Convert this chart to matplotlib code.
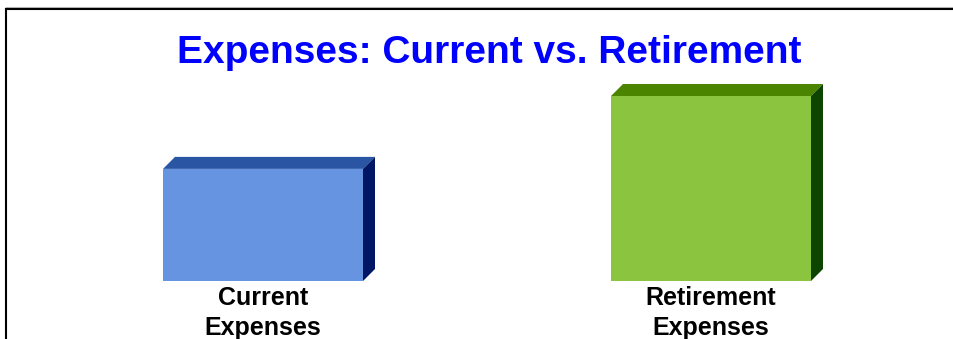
import matplotlib
matplotlib.use("Agg")
import matplotlib.pyplot as plt
from matplotlib.patches import Polygon
from matplotlib.lines import Line2D

# Data
categories = ["Current\nExpenses", "Retirement\nExpenses"]
values = [100, 165]
front_colors = ["#6794E0", "#8BC43F"]
top_colors = ["#2A55A3", "#4B8500"]
side_colors = ["#001766", "#0B4500"]

W, H, DPI = 954, 339, 100
fig = plt.figure(figsize=(W / DPI, H / DPI), dpi=DPI)
fig.patch.set_facecolor("white")
plt.rcParams["font.family"] = ["Liberation Sans", "DejaVu Sans"]

# Plot area in pixels: baseline at y=281, category spacing 448 px
base_px = 281
area_h = 200
ax = fig.add_axes([0, (H - base_px) / H, 1, area_h / H])
ax.set_xlim(-263 / 448, (W - 263) / 448)
ax.set_ylim(0, max(values) * area_h / 185)
ax.axis("off")

bar_w = 200 / 448
x = list(range(len(values)))
bars = ax.bar(x, values, width=bar_w, color=front_colors, linewidth=0, zorder=2)

# 3-D depth faces, computed in display space from the bar geometry
depth = 12  # pixels
fig.canvas.draw()
for rect, tc, sc in zip(bars, top_colors, side_colors):
    x0, y0 = rect.get_x(), 0
    x1, y1 = x0 + rect.get_width(), rect.get_height()
    (dx0, dy0), (dx1, dy1) = ax.transData.transform([(x0, y0), (x1, y1)])
    top = [(dx0, dy1), (dx1, dy1), (dx1 + depth, dy1 + depth), (dx0 + depth, dy1 + depth)]
    side = [(dx1, dy0), (dx1, dy1), (dx1 + depth, dy1 + depth), (dx1 + depth, dy0 + depth)]
    inv = ax.transData.inverted()
    ax.add_patch(Polygon(inv.transform(top), closed=True, facecolor=tc,
                         edgecolor="none", zorder=1, clip_on=False))
    ax.add_patch(Polygon(inv.transform(side), closed=True, facecolor=sc,
                         edgecolor="none", zorder=1, clip_on=False))

# Category labels under each bar
for xi, lab in zip(x, categories):
    ax.annotate(lab, xy=(xi, 0), xytext=(0, -3.5), textcoords="offset points",
                ha="center", va="top", fontsize=18, fontweight="bold",
                color="black", linespacing=1.3, annotation_clip=False)

# Title
fig.text(489 / W, (H - 63) / H, "Expenses: Current vs. Retirement",
         ha="center", va="baseline", fontsize=28, fontweight="bold", color="#0000FF")

# Frame lines along the top and left edges
fig.add_artist(Line2D([6.5 / W, 1], [(H - 7) / H, (H - 7) / H],
                      transform=fig.transFigure, color="#BBBBBB", lw=0.8))
fig.add_artist(Line2D([6.5 / W, 1], [(H - 8.5) / H, (H - 8.5) / H],
                      transform=fig.transFigure, color="black", lw=1.5))
fig.add_artist(Line2D([6.5 / W, 6.5 / W], [0, (H - 8.5) / H],
                      transform=fig.transFigure, color="black", lw=1.5))

fig.savefig("out.png", dpi=DPI, facecolor="white")
